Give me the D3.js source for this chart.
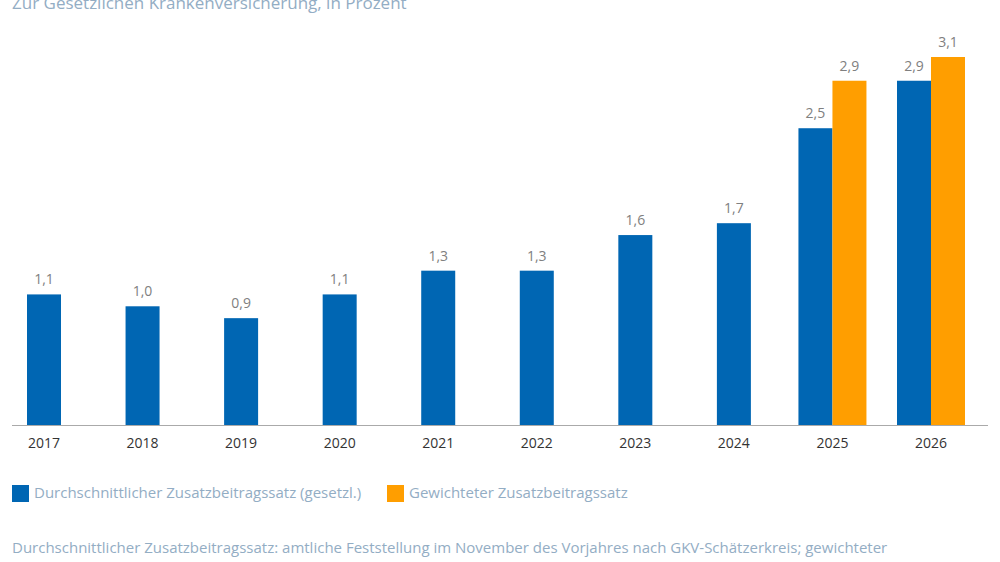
<!DOCTYPE html><html><head><meta charset="utf-8"><script src="https://cdn.jsdelivr.net/npm/d3@7"></script>
<style>body{margin:0;background:#fff;font-family:"Open Sans",sans-serif}</style></head><body><svg width="1000" height="562"></svg>
<script>
const years=["2017","2018","2019","2020","2021","2022","2023","2024","2025","2026"];
const avg=[1.1,1.0,0.9,1.1,1.3,1.3,1.6,1.7,2.5,2.9];
const weighted=[null,null,null,null,null,null,null,null,2.9,3.1];
const svg=d3.select("svg");
const txt="#93adc4";
svg.append("text").attr("x",12).attr("y",9).attr("fill",txt).attr("font-size",17).text("Zur Gesetzlichen Krankenversicherung, in Prozent");
const bw=34;
const x=d3.scalePoint().domain(years).range([44,931]);
const y=d3.scaleLinear().domain([0,3.1]).range([425,57]);
const fmt=v=>d3.format(".1f")(v).replace(".",",");
const g=svg.append("g");
years.forEach((yr,i)=>{
  const c=x(yr),two=weighted[i]!=null;
  const bx=two?c-bw:c-bw/2;
  g.append("rect").attr("x",bx).attr("y",y(avg[i])).attr("width",bw).attr("height",y(0)-y(avg[i])).attr("fill","#0066b3");
  g.append("text").attr("x",bx+bw/2).attr("y",y(avg[i])-10).attr("text-anchor","middle").attr("fill","#808080").attr("font-size",14).text(fmt(avg[i]));
  if(two){
    g.append("rect").attr("x",c).attr("y",y(weighted[i])).attr("width",bw).attr("height",y(0)-y(weighted[i])).attr("fill","#ff9e00");
    g.append("text").attr("x",c+bw/2).attr("y",y(weighted[i])-10).attr("text-anchor","middle").attr("fill","#808080").attr("font-size",14).text(fmt(weighted[i]));
  }
  g.append("text").attr("x",c).attr("y",448).attr("text-anchor","middle").attr("fill","#333").attr("font-size",14).attr("font-weight",500).text(yr);
});
svg.append("line").attr("x1",12).attr("x2",988).attr("y1",425.5).attr("y2",425.5).attr("stroke","#aaa");
const leg=[["#0066b3","Durchschnittlicher Zusatzbeitragssatz (gesetzl.)",12],["#ff9e00","Gewichteter Zusatzbeitragssatz",387]];
leg.forEach(([col,t,lx])=>{
  svg.append("rect").attr("x",lx).attr("y",485).attr("width",17).attr("height",17).attr("fill",col);
  svg.append("text").attr("x",lx+22).attr("y",498).attr("fill",txt).attr("font-size",15).text(t);
});
svg.append("text").attr("x",12).attr("y",553).attr("fill",txt).attr("font-size",15).text("Durchschnittlicher Zusatzbeitragssatz: amtliche Feststellung im November des Vorjahres nach GKV-Schätzerkreis; gewichteter");
</script></body></html>
